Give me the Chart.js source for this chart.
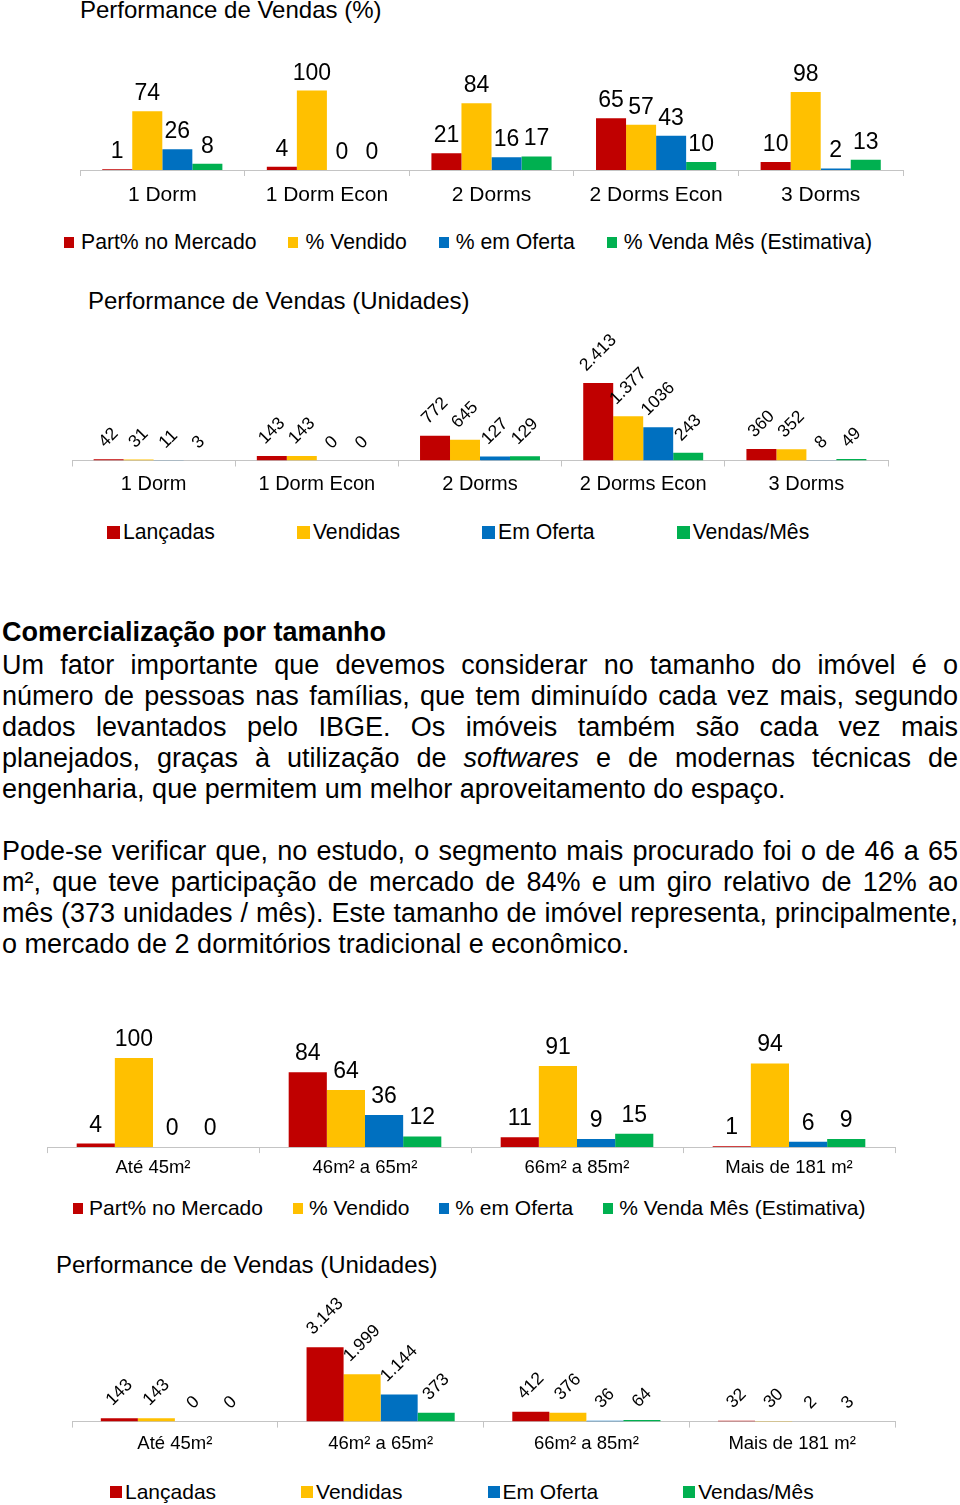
<!DOCTYPE html>
<html lang="pt-BR"><head><meta charset="utf-8">
<script src="https://cdn.jsdelivr.net/npm/chart.js@4.4.1/dist/chart.umd.min.js"></script>
<style>
html,body{margin:0;padding:0;background:#fff;}
body{width:960px;height:1505px;position:relative;overflow:hidden;font-family:"Liberation Sans",Arial,Helvetica,sans-serif;color:#000;}
.title{position:absolute;font-size:24px;line-height:28px;white-space:nowrap;}
.legend{position:absolute;display:flex;align-items:center;white-space:nowrap;line-height:24px;height:24px;}
.legend .item{display:flex;align-items:center;}
.legend .box{display:inline-block;}
.texto{position:absolute;left:2px;top:617px;width:956px;font-size:27px;line-height:31px;}
.texto .h{font-weight:bold;white-space:nowrap;}
.texto .j{text-align:justify;text-align-last:justify;}
.texto .p1{margin-top:2px;}
.texto .p2{margin-top:31px;}
</style>
</head><body>

<div class="title" style="left:80px;top:-4px;">Performance de Vendas (%)</div>
<div class="title" style="left:88px;top:287px;">Performance de Vendas (Unidades)</div>
<div class="title" style="left:56px;top:1251px;">Performance de Vendas (Unidades)</div>

<div class="texto">
  <div class="h">Comercialização por tamanho</div>
  <div class="p1">
    <div class="j">Um fator importante que devemos considerar no tamanho do imóvel é o</div>
    <div class="j">número de pessoas nas famílias, que tem diminuído cada vez mais, segundo</div>
    <div class="j">dados levantados pelo IBGE. Os imóveis também são cada vez mais</div>
    <div class="j">planejados, graças à utilização de <i>softwares</i> e de modernas técnicas de</div>
    <div>engenharia, que permitem um melhor aproveitamento do espaço.</div>
  </div>
  <div class="p2">
    <div class="j">Pode-se verificar que, no estudo, o segmento mais procurado foi o de 46 a 65</div>
    <div class="j">m², que teve participação de mercado de 84% e um giro relativo de 12% ao</div>
    <div class="j">mês (373 unidades / mês). Este tamanho de imóvel representa, principalmente,</div>
    <div>o mercado de 2 dormitórios tradicional e econômico.</div>
  </div>
</div>

<script>
// ---------- DATA ----------
const quartos = ['1 Dorm', '1 Dorm Econ', '2 Dorms', '2 Dorms Econ', '3 Dorms'];
const seriesPct = ['Part% no Mercado', '% Vendido', '% em Oferta', '% Venda Mês (Estimativa)'];
const seriesUni = ['Lançadas', 'Vendidas', 'Em Oferta', 'Vendas/Mês'];

const qPartMercado = [1, 4, 21, 65, 10];
const qVendido     = [74, 100, 84, 57, 98];
const qEmOferta    = [26, 0, 16, 43, 2];
const qVendaMes    = [8, 0, 17, 10, 13];

const qLancadas    = [42, 143, 772, 2413, 360];
const qVendidas    = [31, 143, 645, 1377, 352];
const qOfertaUn    = [11, 0, 127, 1036, 8];
const qVendasMesUn = [3, 0, 129, 243, 49];

const tamanhos = ['Até 45m²', '46m² a 65m²', '66m² a 85m²', 'Mais de 181 m²'];
const tPartMercado = [4, 84, 11, 1];
const tVendido     = [100, 64, 91, 94];
const tEmOferta    = [0, 36, 9, 6];
const tVendaMes    = [0, 12, 15, 9];

const tLancadas    = [143, 3143, 412, 32];
const tVendidas    = [143, 1999, 376, 30];
const tOfertaUn    = [0, 1144, 36, 2];
const tVendasMesUn = [0, 373, 64, 3];

// points whose label is printed without thousands separator (as in the source)
const semSeparador = [[], [], [3], []];

// ---------- STYLE ----------
const FONT = '"Liberation Sans", Arial, Helvetica, sans-serif';
const CORES = ['#C00000', '#FFC000', '#0070C0', '#00B050'];
Chart.defaults.font.family = FONT;
Chart.defaults.color = '#000';

function fmt(v, plain) {
  const s = String(v);
  return plain ? s : s.replace(/\B(?=(\d{3})+(?!\d))/g, '.');
}

const barLabels = {
  id: 'barLabels',
  afterDatasetsDraw(chart, args, o) {
    const ctx = chart.ctx;
    ctx.save();
    ctx.fillStyle = '#000';
    ctx.font = o.size + 'px ' + FONT;
    chart.data.datasets.forEach((ds, di) => {
      const meta = chart.getDatasetMeta(di);
      meta.data.forEach((bar, i) => {
        const txt = fmt(ds.data[i], (ds.plain || []).includes(i));
        const top = Math.min(bar.y, bar.base);
        if (o.rotate) {
          const w = ctx.measureText(txt).width;
          const h = o.size * 0.72;
          const half = (w + h) * Math.SQRT1_2 / 2;
          ctx.save();
          ctx.translate(bar.x, top - o.gap - half);
          ctx.rotate(-Math.PI / 4);
          ctx.textAlign = 'center';
          ctx.textBaseline = 'middle';
          ctx.fillText(txt, 0, 0);
          ctx.restore();
        } else {
          ctx.textAlign = 'center';
          ctx.textBaseline = 'alphabetic';
          ctx.fillText(txt, bar.x, top - o.gap);
        }
      });
    });
    ctx.restore();
  }
};

function makeChart(cfg) {
  const cv = document.createElement('canvas');
  cv.width = cfg.w; cv.height = cfg.h;
  cv.style.cssText = 'position:absolute;left:' + cfg.left + 'px;top:' + cfg.top + 'px;width:' + cfg.w + 'px;height:' + cfg.h + 'px;';
  document.body.appendChild(cv);
  return new Chart(cv, {
    type: 'bar',
    data: {
      labels: cfg.labels,
      datasets: cfg.series.map((d, k) => ({
        label: cfg.names[k], data: d, backgroundColor: CORES[k], borderWidth: 0,
        categoryPercentage: cfg.cat, barPercentage: 1,
        plain: cfg.plain ? cfg.plain[k] : []
      }))
    },
    options: {
      responsive: false, maintainAspectRatio: false, animation: false, devicePixelRatio: 1,
      layout: { padding: cfg.pad },
      plugins: { legend: { display: false }, title: { display: false }, tooltip: { enabled: false }, barLabels: cfg.lab },
      scales: {
        x: {
          grid: { display: true, drawOnChartArea: false, drawTicks: true, tickLength: 6, color: '#C4C4C4', lineWidth: 1, offset: true },
          border: { display: true, color: '#C4C4C4', width: 1 },
          ticks: { color: '#000', font: { size: cfg.tick, family: FONT }, padding: cfg.tickPad, maxRotation: 0, minRotation: 0, autoSkip: false }
        },
        y: { display: false, min: 0, max: cfg.max }
      }
    },
    plugins: [barLabels]
  });
}

function makeLegend(cfg) {
  const el = document.createElement('div');
  el.className = 'legend';
  el.style.left = cfg.left + 'px';
  el.style.top = (cfg.cy - 12) + 'px';
  el.style.gap = cfg.gap + 'px';
  el.style.fontSize = cfg.fs + 'px';
  cfg.names.forEach((n, k) => {
    const it = document.createElement('span');
    it.className = 'item';
    const b = document.createElement('span');
    b.className = 'box';
    b.style.cssText = 'width:' + cfg.bw + 'px;height:' + cfg.bh + 'px;background:' + CORES[k] + ';margin-right:' + cfg.sp + 'px;';
    const t = document.createElement('span');
    t.textContent = n;
    it.appendChild(b); it.appendChild(t);
    el.appendChild(it);
  });
  document.body.appendChild(el);
}

// Chart 1 - % por quartos
makeChart({
  left: 70, top: 0, w: 845, h: 217,
  pad: { left: 10, right: 12, top: 50.75, bottom: 1.8 },
  labels: quartos, names: seriesPct,
  series: [qPartMercado, qVendido, qEmOferta, qVendaMes],
  cat: 0.73, max: 150, tick: 21, tickPad: 7,
  lab: { size: 23, gap: 11, rotate: false }
});
makeLegend({ left: 64, cy: 242, gap: 32, fs: 21.2, bw: 10, bh: 11, sp: 7, names: seriesPct });

// Chart 2 - unidades por quartos
makeChart({
  left: 62, top: 320, w: 838, h: 182,
  pad: { left: 10, right: 12, top: 44, bottom: 0.5 },
  labels: quartos, names: seriesUni,
  series: [qLancadas, qVendidas, qOfertaUn, qVendasMesUn],
  plain: semSeparador,
  cat: 0.735, max: 3000, tick: 20, tickPad: 5.5,
  lab: { size: 17.5, gap: 10, rotate: true }
});
makeLegend({ left: 107, cy: 532, gap: 82, fs: 21.2, bw: 13, bh: 13, sp: 3, names: seriesUni });

// Chart 3 - % por tamanho
makeChart({
  left: 37, top: 1000, w: 868, h: 184,
  pad: { left: 10, right: 10, top: 13.5, bottom: 0.9 },
  labels: tamanhos, names: seriesPct,
  series: [tPartMercado, tVendido, tEmOferta, tVendaMes],
  cat: 0.72, max: 150, tick: 18.5, tickPad: 3.9,
  lab: { size: 23, gap: 12, rotate: false }
});
makeLegend({ left: 73, cy: 1208, gap: 30, fs: 21, bw: 10, bh: 11, sp: 6, names: seriesPct });

// Chart 4 - unidades por tamanho
makeChart({
  left: 62, top: 1290, w: 843, h: 171,
  pad: { left: 10, right: 10, top: 37, bottom: 0.4 },
  labels: tamanhos, names: seriesUni,
  series: [tLancadas, tVendidas, tOfertaUn, tVendasMesUn],
  cat: 0.72, max: 4000, tick: 18.5, tickPad: 5.4,
  lab: { size: 17.5, gap: 11, rotate: true }
});
makeLegend({ left: 110, cy: 1492, gap: 85, fs: 21, bw: 12, bh: 12, sp: 3, names: seriesUni });
</script>
</body></html>
